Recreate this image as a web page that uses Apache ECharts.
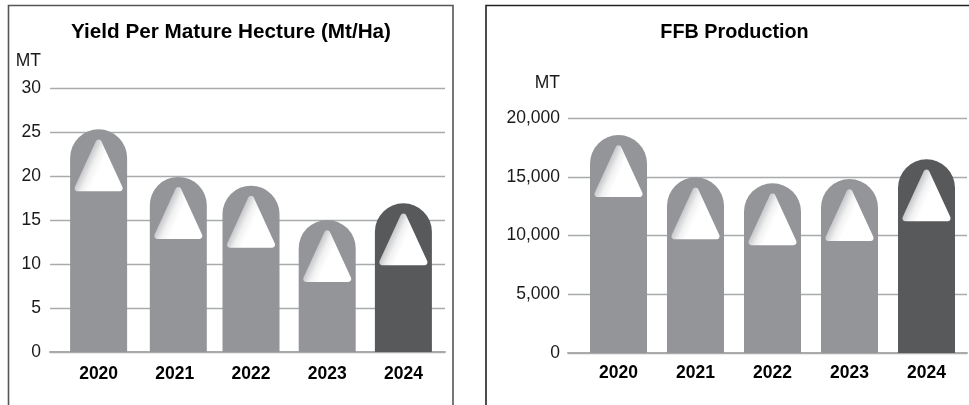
<!DOCTYPE html>
<html>
<head>
<meta charset="utf-8">
<style>html,body{margin:0;padding:0;background:#fff}#chart{width:969px;height:405px}</style>
<script src="https://cdn.jsdelivr.net/npm/echarts@6/dist/echarts.min.js"></script>
</head>
<body>
<div id="chart"></div>
<script>
const years = [2020, 2021, 2022, 2023, 2024];
const yieldPerHectare = [25.3, 19.9, 18.9, 15.0, 16.9];
const ffbProduction = [18550, 14950, 14450, 14800, 16480];
const yieldTicks = { min: 0, max: 30, interval: 5 };
const ffbTicks = { min: 0, max: 20000, interval: 5000 };

const FONT = '"Liberation Sans", Helvetica, Arial, sans-serif';
const BAR_WIDTH = 57;
const GREY = '#939598';
const DARK = '#58595b';
const LINE = '#a9aaac';
const TEXT = '#1a1a1a';

// White rounded triangle that sits inside the top of each pillar.
echarts.graphic.registerShape('roundTriangle', echarts.graphic.extendShape({
  shape: { cx: 0, top: 0, w: 50, h: 52, r: 3 },
  buildPath(ctx, s) {
    const l = s.cx - s.w / 2, rt = s.cx + s.w / 2, b = s.top + s.h;
    ctx.moveTo(s.cx, b);
    ctx.arcTo(l, b, s.cx, s.top, s.r);
    ctx.arcTo(s.cx, s.top, rt, b, s.r);
    ctx.arcTo(rt, b, l, b, s.r);
    ctx.closePath();
  }
}));

function pillarSeries(gridIndex, values, nudges) {
  return {
    type: 'custom',
    xAxisIndex: gridIndex,
    yAxisIndex: gridIndex,
    data: values.map((v, i) => [years[i], v]),
    clip: false,
    z: 3,
    renderItem(params, api) {
      const i = params.dataIndex;
      const top = api.coord([api.value(0), api.value(1)]);
      const base = api.coord([api.value(0), 0]);
      const cx = top[0] + (nudges[i] || 0);
      const y = top[1];
      // Shading runs inward from the triangle's left edge.
      const sx = cx - 12.5, sy = y + 34;
      const shade = new echarts.graphic.LinearGradient(
        sx, sy, sx + 13, sy + 6,
        [{ offset: 0, color: '#c9cacc' }, { offset: 0.5, color: '#f1f1f2' }, { offset: 1, color: '#ffffff' }],
        true
      );
      return {
        type: 'group',
        children: [
          {
            type: 'rect',
            shape: { x: cx - BAR_WIDTH / 2, y, width: BAR_WIDTH, height: base[1] - y, r: [BAR_WIDTH / 2, BAR_WIDTH / 2, 0, 0] },
            style: { fill: years[i] === 2024 ? DARK : GREY }
          },
          {
            type: 'roundTriangle',
            shape: { cx, top: y + 6, w: 51.5, h: 56, r: 3 },
            style: { fill: shade }
          }
        ]
      };
    }
  };
}

function xAxis(gridIndex, min, max, margin) {
  return {
    type: 'value',
    gridIndex,
    min,
    max,
    splitLine: { show: false },
    axisTick: { show: false },
    axisLine: { show: true, onZero: false, lineStyle: { color: LINE, width: 2 } },
    axisLabel: {
      customValues: years,
      formatter: v => String(v),
      color: '#000',
      fontFamily: FONT,
      fontSize: 17.5,
      fontWeight: 'bold',
      margin
    }
  };
}

function yAxis(gridIndex, ticks, nameGap, margin, formatter) {
  return {
    type: 'value',
    gridIndex,
    min: ticks.min,
    max: ticks.max,
    interval: ticks.interval,
    name: 'MT',
    nameGap,
    nameTextStyle: { color: TEXT, fontFamily: FONT, fontSize: 17.5, align: 'right', padding: [0, margin, 0, 0] },
    axisLine: { show: false },
    axisTick: { show: false },
    splitLine: { lineStyle: { color: LINE, width: 1.4 } },
    axisLabel: { color: TEXT, fontFamily: FONT, fontSize: 17.5, margin, formatter }
  };
}

const panelFrame = (pts, stroke) => ({
  type: 'polyline',
  silent: true,
  shape: { points: pts },
  style: { fill: null, stroke, lineWidth: 1.6 }
});

const titleStyle = size => ({ color: '#000', fontFamily: FONT, fontSize: size, fontWeight: 'bold' });

const chart = echarts.init(document.getElementById('chart'), null, { renderer: 'canvas' });
chart.setOption({
  animation: false,
  backgroundColor: '#fff',
  title: [
    { text: 'Yield Per Mature Hecture (Mt/Ha)', left: 226, top: 17, textAlign: 'center', textStyle: titleStyle(20.7) },
    { text: 'FFB Production', left: 729.5, top: 18, textAlign: 'center', textStyle: titleStyle(19.8) }
  ],
  grid: [
    { left: 50, top: 88, width: 395, height: 264 },
    { left: 568, top: 118, width: 399, height: 235 }
  ],
  xAxis: [xAxis(0, 2019.362, 2024.546, 13), xAxis(1, 2019.344, 2024.526, 11)],
  yAxis: [
    yAxis(0, yieldTicks, 18, 9, v => String(v)),
    yAxis(1, ffbTicks, 26, 8, v => v.toLocaleString('en-US'))
  ],
  series: [
    pillarSeries(0, yieldPerHectare, [0, 3.5, 0, 0, 0]),
    pillarSeries(1, ffbProduction, [0, 0, 0, 0, 0])
  ],
  graphic: [
    panelFrame([[8.5, 405], [8.5, 5.5], [453, 5.5], [453, 405]], '#555658'),
    panelFrame([[486, 405], [486, 5.5], [969, 5.5]], '#222')
  ]
});
</script>
</body>
</html>
